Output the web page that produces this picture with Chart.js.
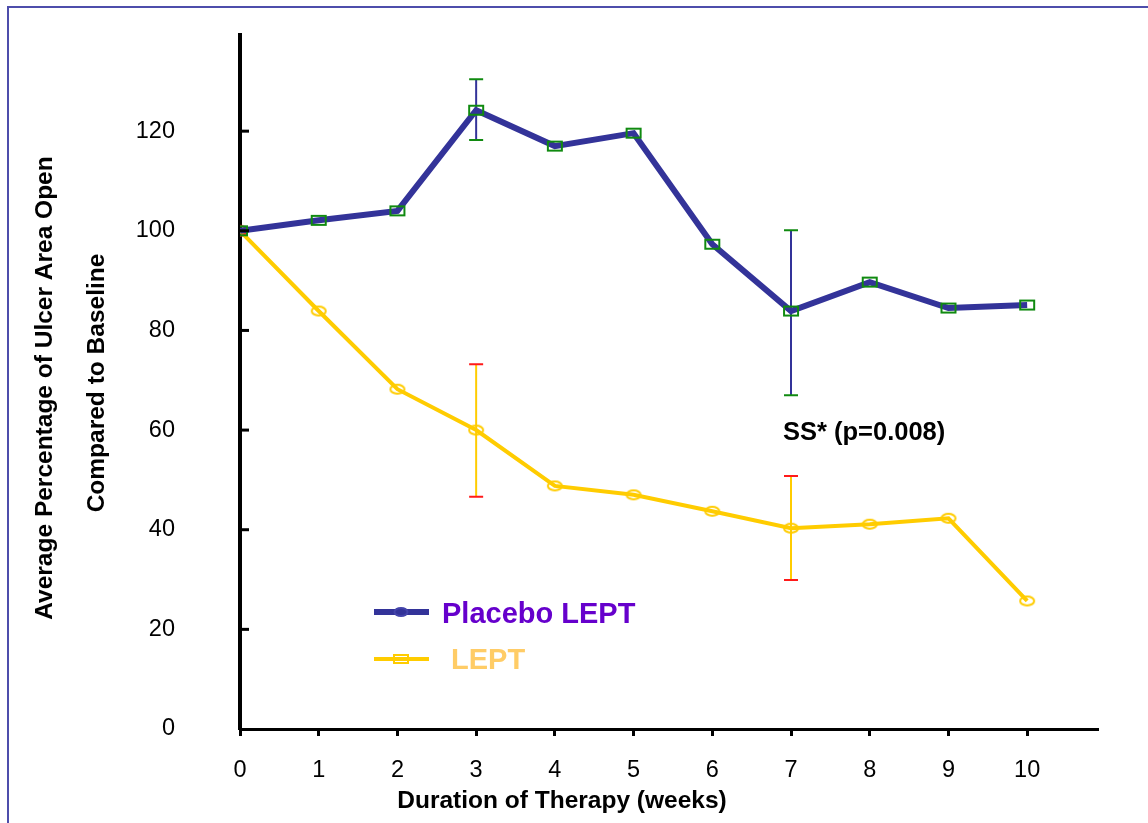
<!DOCTYPE html>
<html>
<head>
<meta charset="utf-8">
<script src="https://cdn.jsdelivr.net/npm/chart.js@4.4.1/dist/chart.umd.min.js"></script>
<style>
html,body{margin:0;padding:0;background:#fff;}
#wrap{width:1148px;height:823px;position:relative;}
</style>
</head>
<body>
<div id="wrap"><canvas id="c" width="1148" height="823"></canvas></div>
<script>
// ---- data ----
const weeks = [0, 1, 2, 3, 4, 5, 6, 7, 8, 9, 10];
const placeboLEPT = [100, 102.1, 104.0, 124.2, 117.0, 119.6, 97.3, 83.9, 89.7, 84.5, 85.1];
const lept = [100, 83.9, 68.2, 60.0, 48.8, 47.0, 43.7, 40.3, 41.1, 42.3, 25.7];
const placeboErrWeeks = [3, 7];
const placeboErrHigh = [130.4, 100.1];
const placeboErrLow = [118.2, 67.0];
const leptErrWeeks = [3, 7];
const leptErrHigh = [73.2, 50.8];
const leptErrLow = [46.6, 29.9];
const yTickValues = [0, 20, 40, 60, 80, 100, 120];
const seriesNames = ['Placebo LEPT', 'LEPT'];
const xTitle = 'Duration of Therapy (weeks)';
const yTitleLines = ['Average Percentage of Ulcer Area Open', 'Compared to Baseline'];
const annotationText = 'SS* (p=0.008)';

const FONT = '"Liberation Sans", Arial, sans-serif';
const BLUE = '#333399';
const GREEN = '#108a10';
const YELLOW = '#ffcc00';
const RED = '#ff1a1a';

function markerCanvas(kind, color, w, h, lw) {
  const c = document.createElement('canvas');
  c.width = w + 4; c.height = h + 4;
  const g = c.getContext('2d');
  g.strokeStyle = color; g.lineWidth = lw;
  if (kind === 'rect') {
    g.strokeRect(2, 2, w, h);
  } else {
    g.beginPath();
    g.ellipse(c.width / 2, c.height / 2, w / 2, h / 2, 0, 0, Math.PI * 2);
    g.stroke();
  }
  return c;
}
const greenRect = markerCanvas('rect', GREEN, 14, 9, 2);
const yellowEllipse = markerCanvas('ellipse', YELLOW, 14, 9, 2);
const redEllipse = markerCanvas('ellipse', RED, 13, 10, 2);

const decorPlugin = {
  id: 'decor',
  beforeDatasetsDraw(chart) {
    const ctx = chart.ctx;
    const xs = chart.scales.x, ys = chart.scales.y;
    function bars(wk, hi, lo, lineColor, capColor) {
      wk.forEach((w, i) => {
        const x = xs.getPixelForValue(w);
        const yh = ys.getPixelForValue(hi[i]);
        const yl = ys.getPixelForValue(lo[i]);
        ctx.save();
        ctx.strokeStyle = lineColor; ctx.lineWidth = 2;
        ctx.beginPath(); ctx.moveTo(x, yh); ctx.lineTo(x, yl); ctx.stroke();
        ctx.strokeStyle = capColor; ctx.lineWidth = 2;
        ctx.beginPath();
        ctx.moveTo(x - 7, yh); ctx.lineTo(x + 7, yh);
        ctx.moveTo(x - 7, yl); ctx.lineTo(x + 7, yl);
        ctx.stroke();
        ctx.restore();
      });
    }
    bars(placeboErrWeeks, placeboErrHigh, placeboErrLow, BLUE, GREEN);
    bars(leptErrWeeks, leptErrHigh, leptErrLow, YELLOW, RED);
  },
  afterDraw(chart) {
    const ctx = chart.ctx;
    const xs = chart.scales.x, ys = chart.scales.y;
    ctx.save();
    // frame
    ctx.strokeStyle = '#4d4dab'; ctx.lineWidth = 2;
    ctx.beginPath(); ctx.moveTo(8, 830); ctx.lineTo(8, 7); ctx.lineTo(1160, 7); ctx.stroke();
    // inward y ticks
    ctx.strokeStyle = '#000'; ctx.lineWidth = 3;
    yTickValues.forEach(v => {
      if (v === 0) return;
      const y = ys.getPixelForValue(v);
      ctx.beginPath(); ctx.moveTo(xs.left, y); ctx.lineTo(xs.left + 9, y); ctx.stroke();
    });
    // titles
    ctx.fillStyle = '#000';
    ctx.font = 'bold 24.5px ' + FONT;
    ctx.textAlign = 'center'; ctx.textBaseline = 'middle';
    ctx.fillText(xTitle, 562, 801);
    ctx.save(); ctx.translate(45, 388); ctx.rotate(-Math.PI / 2); ctx.fillText(yTitleLines[0], 0, 0); ctx.restore();
    ctx.save(); ctx.translate(97, 383); ctx.rotate(-Math.PI / 2); ctx.fillText(yTitleLines[1], 0, 0); ctx.restore();
    ctx.textAlign = 'left';
    ctx.font = 'bold 25.5px ' + FONT;
    ctx.fillText(annotationText, 783, 433);
    // legend
    ctx.lineWidth = 6; ctx.strokeStyle = BLUE;
    ctx.beginPath(); ctx.moveTo(374, 612); ctx.lineTo(429, 612); ctx.stroke();
    ctx.lineWidth = 2; ctx.strokeStyle = '#4444aa';
    ctx.beginPath(); ctx.ellipse(401, 612, 6.5, 4, 0, 0, Math.PI * 2); ctx.stroke();
    ctx.lineWidth = 4; ctx.strokeStyle = YELLOW;
    ctx.beginPath(); ctx.moveTo(374, 659); ctx.lineTo(429, 659); ctx.stroke();
    ctx.lineWidth = 2;
    ctx.strokeRect(394, 655, 14, 8);
    ctx.font = 'bold 29px ' + FONT;
    ctx.textBaseline = 'middle';
    ctx.fillStyle = '#6600cc';
    ctx.fillText(seriesNames[0], 442, 615);
    ctx.fillStyle = '#ffcc66';
    ctx.fillText(seriesNames[1], 451, 661);
    ctx.restore();
  }
};

const chart = new Chart(document.getElementById('c'), {
  type: 'line',
  data: {
    datasets: [
      {
        label: seriesNames[0],
        data: weeks.map((w, i) => ({ x: w, y: placeboLEPT[i] })),
        borderColor: BLUE,
        borderWidth: 6,
        tension: 0,
        pointStyle: greenRect,
        pointRadius: 7,
        fill: false
      },
      {
        label: seriesNames[1],
        data: weeks.map((w, i) => ({ x: w, y: lept[i] })),
        borderColor: YELLOW,
        borderWidth: 4,
        tension: 0,
        pointStyle: weeks.map((w, i) => i === 0 ? redEllipse : yellowEllipse),
        pointRadius: 7,
        fill: false
      }
    ]
  },
  options: {
    responsive: false,
    animation: false,
    layout: { autoPadding: false, padding: { left: 0, top: 35, right: 50, bottom: 0 } },
    plugins: { legend: { display: false }, tooltip: { enabled: false }, title: { display: false } },
    scales: {
      x: {
        type: 'linear',
        min: 0,
        max: 10.9,
        afterBuildTicks: s => { s.ticks = weeks.map(v => ({ value: v })); },
        afterFit: s => { s.height = 94; s.paddingLeft = 0; s.paddingRight = 0; s.paddingTop = 0; s.paddingBottom = 0; },
        grid: { display: true, drawOnChartArea: false, drawTicks: true, tickLength: 7, tickWidth: 3, color: '#000' },
        border: { display: true, color: '#000', width: 3 },
        ticks: { color: '#000', font: { family: FONT, size: 23.5 }, padding: 20, maxRotation: 0, autoSkip: false }
      },
      y: {
        min: 0,
        max: 139.3,
        afterBuildTicks: s => { s.ticks = yTickValues.map(v => ({ value: v })); },
        afterFit: s => { s.width = 240; s.paddingTop = 0; s.paddingBottom = 0; s.paddingLeft = 0; s.paddingRight = 0; },
        grid: { display: true, drawOnChartArea: false, drawTicks: false },
        border: { display: true, color: '#000', width: 4 },
        ticks: { color: '#000', font: { family: FONT, size: 23.5 }, padding: 65 }
      }
    }
  },
  plugins: [decorPlugin]
});
</script>
</body>
</html>
